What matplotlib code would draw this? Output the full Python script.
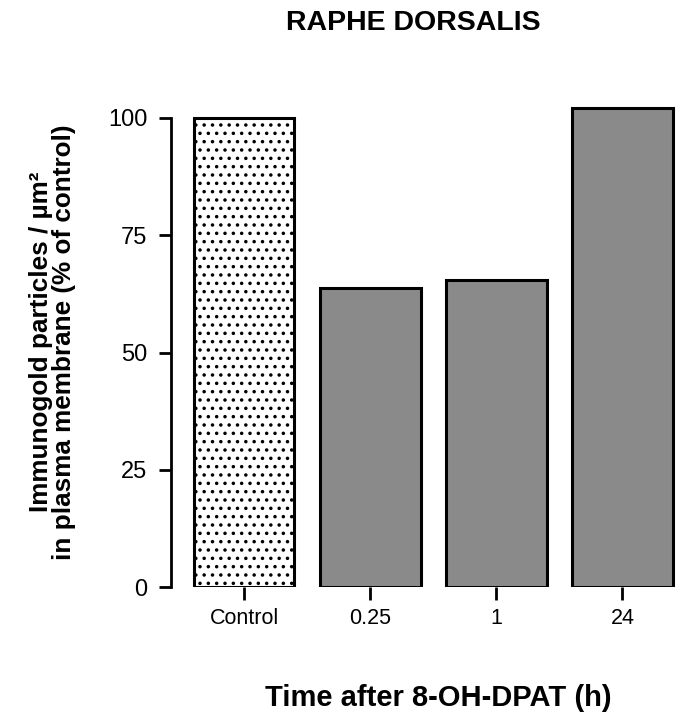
import numpy as np
import matplotlib.pyplot as plt

categories = ["Control", "0.25", "1", "24"]
values = [100, 63.7, 65.5, 102.1]
yticks = [0, 25, 50, 75, 100]

plt.rcParams['font.family'] = ['Liberation Sans', 'DejaVu Sans']
plt.rcParams['hatch.linewidth'] = 1.3

fig = plt.figure(figsize=(6.78, 7.2), dpi=100)
ax = fig.add_axes([0.252, 0.1847, 0.748, 0.684])

x = np.arange(len(categories))
bars = ax.bar(x, values, width=0.8, color="#8a8a8a", edgecolor="black", linewidth=2.2)
bars[0].set_facecolor("white")
bars[0].set_hatch("..")

ax.set_xlim(-0.58, 3.44)
ax.set_ylim(0, 105)
ax.set_xticks(x)
ax.set_xticklabels(categories, fontsize=15.5)
ax.set_yticks(yticks)
ax.set_yticklabels([str(t) for t in yticks], fontsize=17)

for s in ["top", "right", "bottom"]:
    ax.spines[s].set_visible(False)
ax.spines["left"].set_bounds(0, 100)
ax.spines["left"].set_linewidth(2)
ax.tick_params(axis="y", length=9, width=2, pad=8, labelsize=17)
ax.tick_params(axis="x", length=9, width=2, pad=6, labelsize=15.5)

fig.text(0.61, 0.968, "RAPHE DORSALIS", ha="center", va="center", fontsize=20.5, fontweight="bold")
fig.text(0.646, 0.03, "Time after 8-OH-DPAT (h)", ha="center", va="center", fontsize=21, fontweight="bold")
fig.text(0.078, 0.525, "Immunogold particles / µm²\nin plasma membrane (% of control)",
         ha="center", va="center", rotation=90, fontsize=18.8, fontweight="bold", linespacing=0.95)

fig.savefig("out.png", dpi=100)
